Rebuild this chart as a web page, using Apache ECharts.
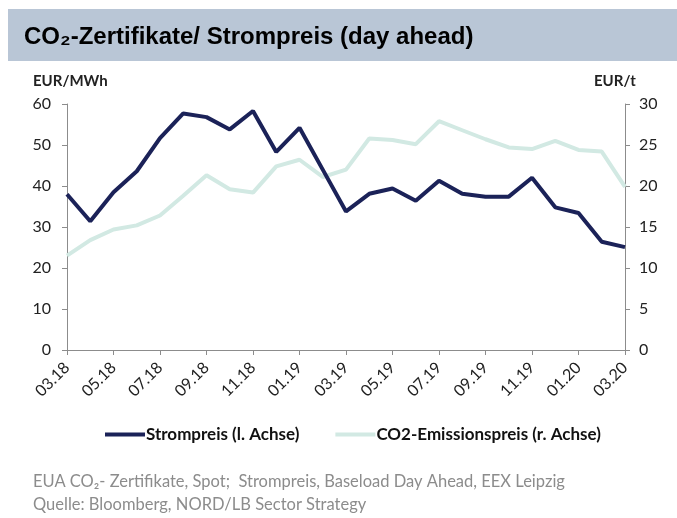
<!DOCTYPE html>
<html>
<head>
<meta charset="utf-8">
<script src="https://cdn.jsdelivr.net/npm/echarts@6/dist/echarts.min.js"></script>
<style>
  html, body { margin: 0; padding: 0; background: #fff; }
  #main { width: 677px; height: 518px; }
</style>
</head>
<body>
<div id="main"></div>
<script>
// Monate 03.18 - 03.20
var categories = ['03.18', '04.18', '05.18', '06.18', '07.18', '08.18', '09.18', '10.18', '11.18', '12.18',
  '01.19', '02.19', '03.19', '04.19', '05.19', '06.19', '07.19', '08.19', '09.19', '10.19',
  '11.19', '12.19', '01.20', '02.20', '03.20'];

// Strompreis, EUR/MWh (linke Achse)
var strompreis = [38.0, 31.4, 38.5, 43.6, 51.7, 57.7, 56.8, 53.8, 58.3, 48.3,
  54.2, 44.0, 33.8, 38.1, 39.4, 36.4, 41.3, 38.1, 37.4, 37.4,
  42.0, 34.8, 33.4, 26.4, 25.1];

// CO2-Emissionspreis, EUR/t (rechte Achse)
var co2Preis = [11.5, 13.4, 14.7, 15.2, 16.4, 18.8, 21.3, 19.6, 19.2, 22.4,
  23.2, 21.1, 22.0, 25.8, 25.6, 25.1, 27.9, 26.8, 25.7, 24.7,
  24.5, 25.5, 24.4, 24.2, 19.9];

var leftTicks = { min: 0, max: 60, interval: 10 };
var rightTicks = { min: 0, max: 30, interval: 5 };

var dunkel = '#1b2258';
var hell = '#d2e9e3';
var font = 'Lato, "Open Sans", sans-serif';

var chart = echarts.init(document.getElementById('main'));

chart.setOption({
  animation: false,
  textStyle: { fontFamily: font },
  graphic: [
    // Titelbalken
    { type: 'rect', left: 8, top: 9, shape: { width: 669, height: 52 }, style: { fill: '#b9c6d6' } },
    {
      type: 'text', left: 24, top: 25,
      style: { text: 'CO₂-Zertifikate/ Strompreis (day ahead)', font: 'bold 24px "Liberation Sans", Arial, sans-serif', fill: '#000' }
    },
    // Achsenbeschriftungen
    { type: 'text', left: 33, top: 74, style: { text: 'EUR/MWh', font: 'bold 15px ' + font, fill: '#222' } },
    { type: 'text', left: 594, top: 74, style: { text: 'EUR/t', font: 'bold 15px ' + font, fill: '#222' } },
    // Fußnote
    {
      type: 'text', left: 33, top: 473,
      style: { text: 'EUA CO₂- Zertifikate, Spot;  Strompreis, Baseload Day Ahead, EEX Leipzig', font: '16.5px ' + font, fill: '#8c8c8c' }
    },
    {
      type: 'text', left: 33, top: 496,
      style: { text: 'Quelle: Bloomberg, NORD/LB Sector Strategy', font: '16.5px ' + font, fill: '#8c8c8c' }
    }
  ],
  legend: {
    left: 100,
    top: 421,
    itemWidth: 40,
    itemHeight: 4,
    itemGap: 36,
    icon: 'rect',
    textStyle: { fontSize: 17, fontWeight: 'bold', color: '#111', padding: [0, 0, 0, -4] },
    data: ['Strompreis (l. Achse)', 'CO2-Emissionspreis (r. Achse)']
  },
  grid: { left: 67, right: 52, top: 104, bottom: 168 },
  xAxis: {
    type: 'category',
    boundaryGap: false,
    data: categories,
    axisLine: { lineStyle: { color: '#8c8c8c', width: 1 } },
    axisTick: { interval: 1, length: 5, lineStyle: { color: '#8c8c8c' } },
    axisLabel: { interval: 1, rotate: 45, fontSize: 16, color: '#222', margin: 15 }
  },
  yAxis: [
    {
      type: 'value',
      min: leftTicks.min, max: leftTicks.max, interval: leftTicks.interval,
      axisLine: { show: true, lineStyle: { color: '#8c8c8c' } },
      axisTick: { show: true, length: 5, lineStyle: { color: '#8c8c8c' } },
      axisLabel: { fontSize: 16, color: '#222', margin: 16 },
      splitLine: { show: false }
    },
    {
      type: 'value',
      position: 'right',
      min: rightTicks.min, max: rightTicks.max, interval: rightTicks.interval,
      axisLine: { show: true, lineStyle: { color: '#8c8c8c' } },
      axisTick: { show: true, length: 5, lineStyle: { color: '#8c8c8c' } },
      axisLabel: { fontSize: 16, color: '#222', margin: 14 },
      splitLine: { show: false }
    }
  ],
  series: [
    {
      name: 'CO2-Emissionspreis (r. Achse)',
      type: 'line',
      yAxisIndex: 1,
      data: co2Preis,
      symbol: 'none',
      lineStyle: { width: 4, color: hell },
      itemStyle: { color: hell },
      z: 2
    },
    {
      name: 'Strompreis (l. Achse)',
      type: 'line',
      yAxisIndex: 0,
      data: strompreis,
      symbol: 'none',
      lineStyle: { width: 4, color: dunkel },
      itemStyle: { color: dunkel },
      z: 3
    }
  ]
});
</script>
</body>
</html>
